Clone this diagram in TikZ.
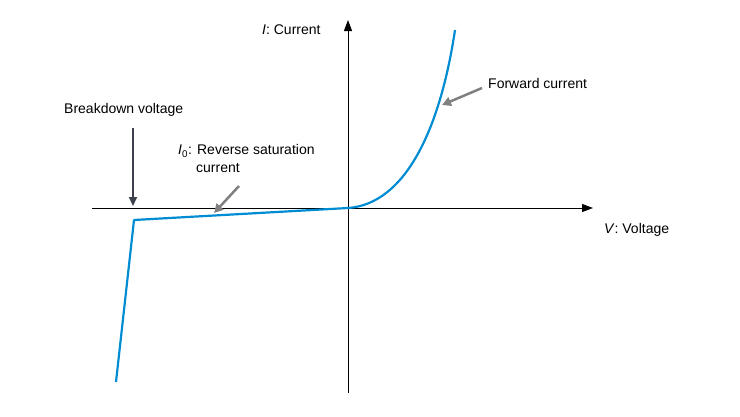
\documentclass[tikz,border=0pt]{standalone}
\usepackage{fontspec}
\setmainfont{Liberation Sans}
\usetikzlibrary{arrows.meta}
\begin{document}
\begin{tikzpicture}[x=1pt,y=-1pt,
  lbl/.style={font=\fontsize{14}{16}\selectfont,inner sep=0pt},
  curve/.style={draw={rgb,255:red,0;green,140;blue,210},line width=2.2pt},
  pointer/.style={draw={rgb,255:red,128;green,128;blue,128},line width=2.5pt,-{Triangle[length=9pt,width=9pt]}}]
\useasboundingbox (0,0) rectangle (740,416);
\coordinate (xl) at (92,208); \coordinate (xr) at (593,208);
\coordinate (yb) at (348,393); \coordinate (yt) at (348,20);
\draw[line width=1pt,-{Triangle[length=11pt,width=8pt]}] (xl) -- (xr);
\draw[line width=1pt,-{Triangle[length=11pt,width=8pt]}] (yb) -- (yt);
\coordinate (c0) at (116,382); \coordinate (c1) at (134,220); \coordinate (c2) at (348,208);
\coordinate (c3) at (455,30);
\draw[curve,line join=round] (c0) -- (c1) -- (c2) .. controls (405,204) and (440,130) .. (c3);
\node[lbl,anchor=west] (I) at (262,30) {\textit{I}: Current};
\node[lbl,anchor=west] (V) at (604,230) {\textit{V}: Voltage};
\node[lbl,anchor=west] (fw) at (488,83) {Forward current};
\node[lbl,anchor=west] (bd) at (64,110) {Breakdown voltage};
\node[lbl,anchor=west] (rs) at (178,151) {\textit{I}\textsubscript{0}: Reverse saturation};
\node[lbl,anchor=west] (rs2) at (196,168) {current};
\coordinate (fwt) at (442,105); \coordinate (bdt) at (133,206); \coordinate (rst) at (214,213);
\draw[pointer] (fw.west) ++(-6,5) -- (fwt);
\draw[line width=2pt,draw={rgb,255:red,60;green,65;blue,75},-{Triangle[length=9pt,width=8pt]}] (133,128) -- (bdt);
\draw[pointer] (239,186) -- (rst);
\end{tikzpicture}
\end{document}
